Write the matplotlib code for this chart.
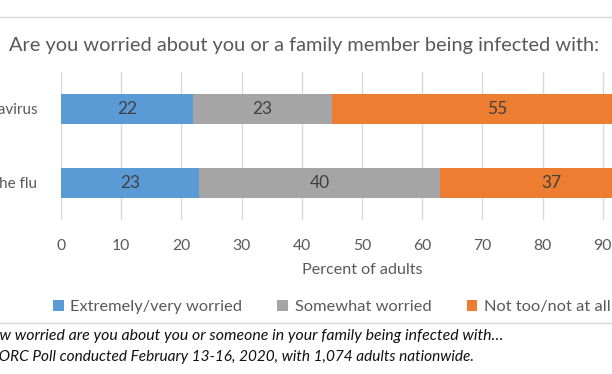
import matplotlib
matplotlib.use("Agg")
import matplotlib.pyplot as plt
from matplotlib.patches import Patch
from matplotlib.lines import Line2D

categories = ["Coronavirus", "The flu"]
series_names = ["Extremely/very worried", "Somewhat worried", "Not too/not at all worried"]
extremely = [22, 23]
somewhat = [23, 40]
not_too = [55, 37]
xticks = [0, 10, 20, 30, 40, 50, 60, 70, 80, 90, 100]
colors = ["#5B9BD5", "#A5A5A5", "#ED7D31"]

title = "Are you worried about you or a family member being infected with:"
note1 = "How worried are you about you or someone in your family being infected with\u2026"
note2 = "Source: AP-NORC Poll conducted February 13-16, 2020, with 1,074 adults nationwide."

plt.rcParams['font.family'] = ['Lato', 'DejaVu Sans']

W, H = 612, 374
fig = plt.figure(figsize=(W / 100, H / 100), dpi=100)
fig.patch.set_facecolor("white")

ax = fig.add_axes([61 / W, (H - 220) / H, 602 / W, 148 / H])
ypos = list(range(len(categories)))
left = [0] * len(categories)
for vals, col, name in zip([extremely, somewhat, not_too], colors, series_names):
    bars = ax.barh(ypos, vals, left=left, height=0.395, color=col, label=name, zorder=3)
    ax.bar_label(bars, labels=[str(v) for v in vals], label_type='center',
                 color="#404040", fontsize=12.5, zorder=4)
    left = [l + v for l, v in zip(left, vals)]

ax.set_xlim(0, 100)
ax.set_ylim(-0.5, len(categories) - 0.5)
ax.invert_yaxis()
ax.set_xticks(xticks)
ax.set_yticks(ypos)
ax.set_yticklabels(categories)
ax.tick_params(axis='both', length=0, colors="#595959", labelsize=11.3)
ax.tick_params(axis='x', pad=14)
ax.tick_params(axis='y', pad=17, labelsize=11.0)
ax.grid(axis='x', color="#D9D9D9", linewidth=1.0, zorder=0)
for s in ax.spines.values():
    s.set_visible(False)
ax.set_xlabel("Percent of adults", color="#595959", fontsize=11.6, labelpad=7)

fig.text(304 / W, 1 - 45 / H, title, ha='center', va='center', color="#595959", fontsize=14.4)

handles = [Patch(facecolor=c, edgecolor='none') for c in colors]
fig.legend(handles, series_names, loc='center left', bbox_to_anchor=(53 / W, 1 - 307 / H),
           ncol=3, frameon=False, fontsize=11.8, labelcolor="#595959",
           handlelength=0.65, handleheight=0.65, handletextpad=0.4, columnspacing=2.15,
           borderaxespad=0, borderpad=0)

fig.add_artist(Line2D([0, 1], [1 - 17 / H, 1 - 17 / H], color="#D9D9D9", linewidth=1.0, transform=fig.transFigure))
fig.add_artist(Line2D([0, 1], [1 - 323 / H, 1 - 323 / H], color="#D9D9D9", linewidth=1.0, transform=fig.transFigure))

fig.text(503 / W, 1 - 336 / H, note1, ha='right', va='center', style='italic', color="#111111", fontsize=11.45)
fig.text(474 / W, 1 - 357 / H, note2, ha='right', va='center', style='italic', color="#111111", fontsize=11.1)

fig.savefig("out.png", dpi=100)
